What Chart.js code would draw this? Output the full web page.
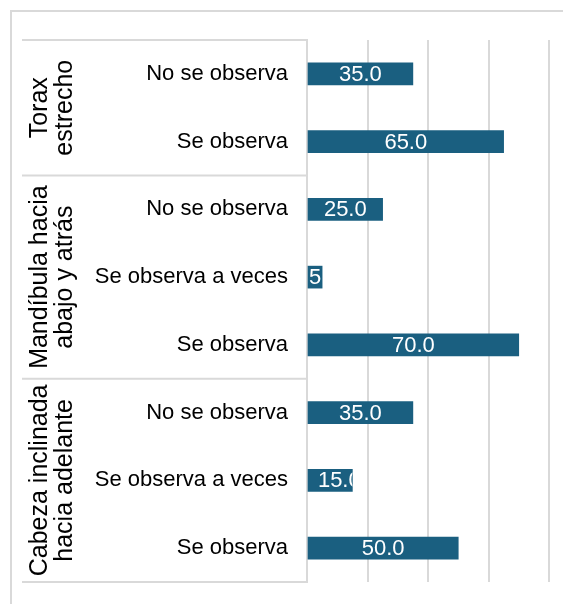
<!DOCTYPE html>
<html>
<head>
<meta charset="utf-8">
<script src="https://cdn.jsdelivr.net/npm/chart.js@4.4.1/dist/chart.umd.min.js"></script>
<style>
  html, body { margin: 0; padding: 0; background: #fff; overflow: hidden; }
  canvas { display: block; }
</style>
</head>
<body>
<canvas id="grafico" width="563" height="604"></canvas>
<script>
// grupos (rotulo em duas linhas) e quantas barras cada um tem
const grupos = [
  ['Torax', 'estrecho'],
  ['Mandíbula hacia', 'abajo y atrás'],
  ['Cabeza inclinada', 'hacia adelante']
];
const barrasPorGrupo = [2, 3, 3];

// categorias de cima para baixo
const respostas = [
  'No se observa', 'Se observa',
  'No se observa', 'Se observa a veces', 'Se observa',
  'No se observa', 'Se observa a veces', 'Se observa'
];
const porcentagens = [35.0, 65.0, 25.0, 5.0, 70.0, 35.0, 15.0, 50.0];

// linhas de grade verticais
const passoX = 20;
const maxX = 80;

const corBarra = '#1a5f80';
const corLinha = '#d9d9d9';
const fonte = '"Liberation Sans", Arial, Helvetica, sans-serif';

// moldura externa e caixa dos rotulos
const molduraPlugin = {
  id: 'moldura',
  beforeDraw(chart) {
    const { ctx, chartArea } = chart;
    ctx.save();
    ctx.strokeStyle = corLinha;
    ctx.lineWidth = 2;
    ctx.strokeRect(11, 11, 700, 700);

    const esq = 22;
    const y = chart.scales.y;
    ctx.beginPath();
    ctx.moveTo(esq, chartArea.top);
    ctx.lineTo(chartArea.left, chartArea.top);
    ctx.moveTo(esq, chartArea.bottom);
    ctx.lineTo(chartArea.left, chartArea.bottom);
    let idx = 0;
    barrasPorGrupo.forEach((n, g) => {
      if (g > 0) {
        const yy = (y.getPixelForValue(idx - 1) + y.getPixelForValue(idx)) / 2;
        ctx.moveTo(esq, yy);
        ctx.lineTo(chartArea.left, yy);
      }
      idx += n;
    });
    ctx.stroke();
    ctx.restore();
  }
};

// valores dentro das barras, cortados pela propria barra
const valoresPlugin = {
  id: 'valores',
  afterDatasetsDraw(chart) {
    const { ctx } = chart;
    const meta = chart.getDatasetMeta(0);
    ctx.save();
    ctx.font = '22px ' + fonte;
    ctx.fillStyle = '#fff';
    ctx.textBaseline = 'middle';
    meta.data.forEach((bar, i) => {
      const p = bar.getProps(['x', 'y', 'base', 'height'], true);
      const largura = p.x - p.base;
      const texto = porcentagens[i].toFixed(1);
      ctx.save();
      ctx.beginPath();
      ctx.rect(p.base, p.y - p.height / 2, largura, p.height);
      ctx.clip();
      if (ctx.measureText(texto).width + 8 <= largura) {
        ctx.textAlign = 'center';
        ctx.fillText(texto, (p.x + p.base) / 2, p.y + 1);
      } else {
        // barra estreita: centra a parte inteira e deixa o resto ser cortado
        const parte = ctx.measureText(texto.slice(0, texto.indexOf('.') + 1)).width;
        ctx.textAlign = 'left';
        ctx.fillText(texto, p.base + Math.max(0, (largura - parte) / 2 + 3), p.y + 1);
      }
      ctx.restore();
    });
    ctx.restore();
  }
};

// rotulos dos grupos, girados
const gruposPlugin = {
  id: 'grupos',
  afterDraw(chart) {
    const { ctx } = chart;
    const y = chart.scales.y;
    ctx.save();
    ctx.font = '25px ' + fonte;
    ctx.fillStyle = '#000';
    ctx.textAlign = 'center';
    ctx.textBaseline = 'alphabetic';
    let idx = 0;
    barrasPorGrupo.forEach((n, g) => {
      const topo = idx === 0 ? chart.chartArea.top
        : (y.getPixelForValue(idx - 1) + y.getPixelForValue(idx)) / 2;
      const fim = idx + n;
      const base = fim >= respostas.length ? chart.chartArea.bottom
        : (y.getPixelForValue(fim - 1) + y.getPixelForValue(fim)) / 2;
      const cy = (topo + base) / 2;
      ctx.save();
      ctx.translate(0, cy);
      ctx.rotate(-Math.PI / 2);
      ctx.fillText(grupos[g][0], 0, 47);
      ctx.fillText(grupos[g][1], 0, 72);
      ctx.restore();
      idx = fim;
    });
    ctx.restore();
  }
};

const ctx = document.getElementById('grafico').getContext('2d');
new Chart(ctx, {
  type: 'bar',
  data: {
    labels: respostas,
    datasets: [{
      data: porcentagens,
      backgroundColor: corBarra,
      barThickness: 22
    }]
  },
  options: {
    indexAxis: 'y',
    responsive: false,
    animation: false,
    layout: { padding: { left: 22, top: 40, right: 14, bottom: 22 } },
    plugins: { legend: { display: false }, tooltip: { enabled: false } },
    scales: {
      x: {
        min: 0,
        max: maxX,
        ticks: { display: false, stepSize: passoX },
        grid: { color: corLinha, lineWidth: 2, drawTicks: false },
        border: { display: false },
        afterFit(scale) { scale.height = 0; }
      },
      y: {
        ticks: {
          color: '#000',
          padding: 19,
          font: { family: fonte, size: 22 }
        },
        grid: { display: false, drawTicks: false },
        border: { display: true, color: corLinha, width: 2 },
        afterFit(scale) {
          scale.width = 285;
          scale.paddingTop = 0;
          scale.paddingBottom = 0;
        }
      }
    }
  },
  plugins: [molduraPlugin, valoresPlugin, gruposPlugin]
});
</script>
</body>
</html>
